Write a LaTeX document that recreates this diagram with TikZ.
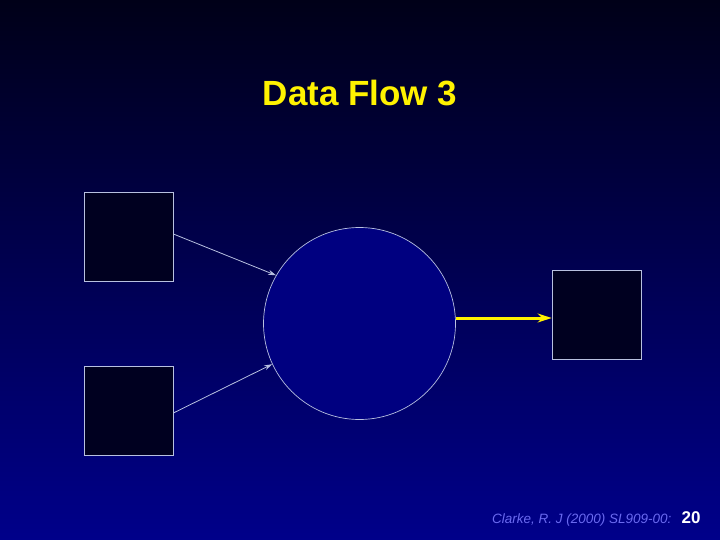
\documentclass[tikz,border=0pt]{standalone}
\usepackage{fontspec}
\setmainfont{Liberation Sans}
\usetikzlibrary{arrows.meta}
\definecolor{bgtop}{HTML}{000018}
\definecolor{bgbot}{HTML}{00008A}
\definecolor{circ}{HTML}{000080}
\definecolor{boxf}{HTML}{000020}
\definecolor{edge}{HTML}{B8C0E0}
\definecolor{foottxt}{HTML}{6A6AF0}
\begin{document}
\begin{tikzpicture}[x=1pt,y=-1pt,
  store/.style={draw=edge,fill=boxf,line width=0.7pt,minimum width=89pt,minimum height=89pt,inner sep=0pt},
  proc/.style={circle,draw=edge,fill=circ,line width=0.7pt,minimum size=192pt,inner sep=0pt},
  flow/.style={draw=edge,line width=0.8pt,-{Stealth[length=8pt,width=5pt]}}]
\shade[top color=bgtop,bottom color=bgbot] (0,0) rectangle (720,540);
\useasboundingbox (0,0) rectangle (720,540);
\node[text=yellow,font=\bfseries\fontsize{35}{40}\selectfont] (title) at (360,93) {Data Flow 3};
\node[store] (s1) at (128.5,236.5) {};
\node[store] (s2) at (128.5,410.5) {};
\node[store] (s3) at (596.5,314.5) {};
\node[proc] (p) at (359.5,323.5) {};
\draw[flow] (s1.east |- 0,234) -- (p.150);
\draw[flow] (s2.east |- 0,413) -- (p.205);
\draw[yellow,line width=3pt,-{Stealth[length=14pt,width=9pt]}] (p.east |- 0,318) -- (s3.west |- 0,318);
\node[anchor=east,text=foottxt,font=\itshape\fontsize{13.5}{16}\selectfont] (foot) at (675,520) {Clarke, R. J (2000) SL909-00:};
\node[text=white,font=\bfseries\fontsize{17}{20}\selectfont] (num) at (691,518) {20};
\end{tikzpicture}
\end{document}
